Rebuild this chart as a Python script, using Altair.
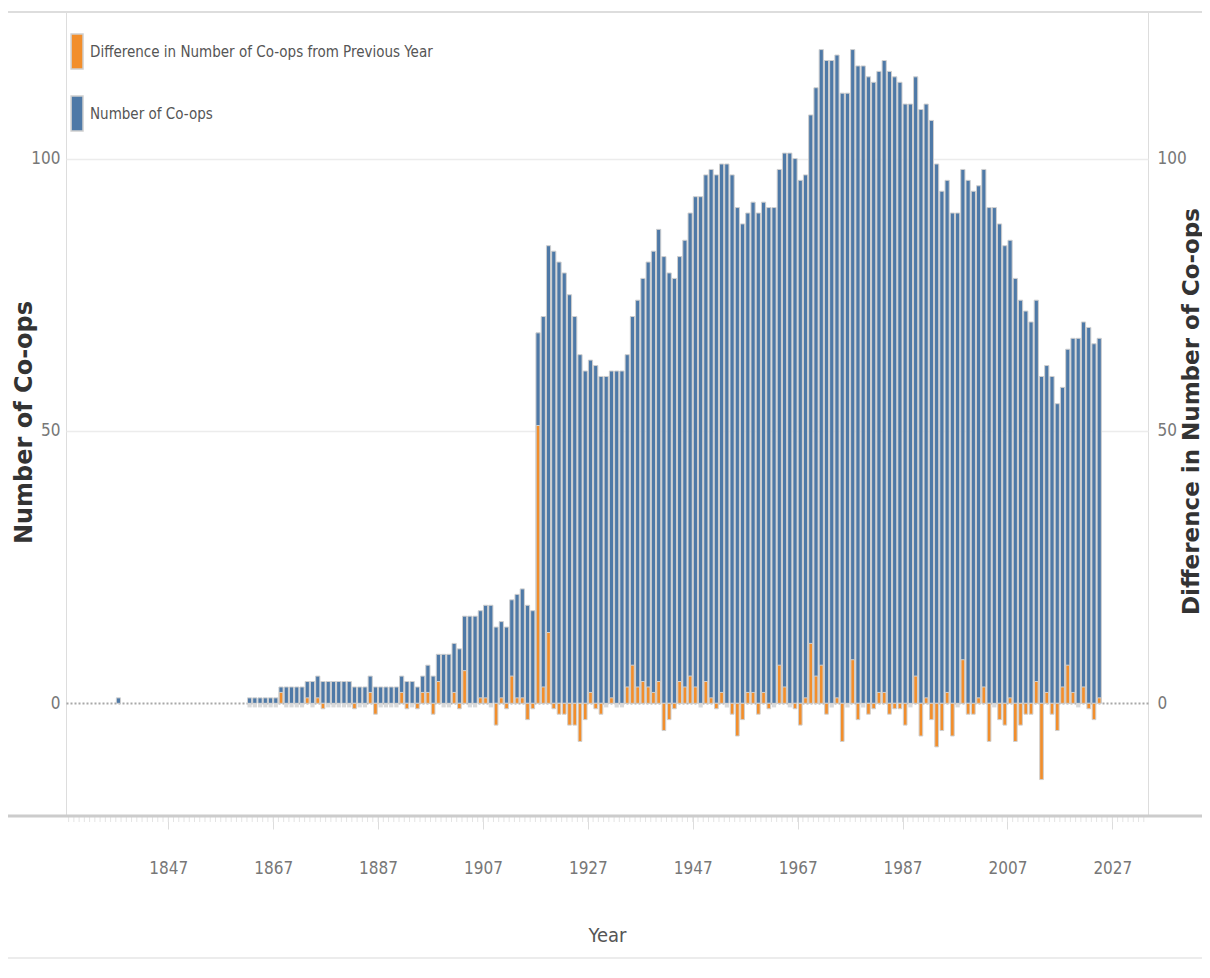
import altair as alt
import pandas as pd

# ---------------- data ----------------
first_year = [1837]
first_count = [1]

years = list(range(1862, 2025))

counts = [
    1, 1, 1, 1, 1, 1, 3, 3,                          # 1862-1869
    3, 3, 3, 4, 4, 5, 4, 4, 4, 4,                    # 1870s
    4, 4, 3, 3, 3, 5, 3, 3, 3, 3,                    # 1880s
    3, 5, 4, 4, 3, 5, 7, 5, 9, 9,                    # 1890s
    9, 11, 10, 16, 16, 16, 17, 18, 18, 14,           # 1900s
    15, 14, 19, 20, 21, 18, 17, 68, 71, 84,          # 1910s
    83, 81, 79, 75, 71, 64, 61, 63, 62, 60,          # 1920s
    60, 61, 61, 61, 64, 71, 74, 78, 81, 83,          # 1930s
    87, 82, 79, 78, 82, 85, 90, 93, 93, 97,          # 1940s
    98, 97, 99, 99, 97, 91, 88, 90, 92, 90,          # 1950s
    92, 91, 91, 98, 101, 101, 100, 96, 97, 108,      # 1960s
    113, 120, 118, 118, 119, 112, 112, 120, 117, 117,  # 1970s
    115, 114, 116, 118, 116, 115, 114, 110, 110, 115,  # 1980s
    109, 110, 107, 99, 94, 96, 90, 90, 98, 96,       # 1990s
    94, 95, 98, 91, 91, 88, 84, 85, 78, 74,          # 2000s
    72, 70, 74, 60, 62, 60, 55, 58, 65, 67,          # 2010s
    67, 70, 69, 66, 67,                              # 2020-2024
]

diffs = [
    0, 0, 0, 0, 0, 0, 2, 0,                          # 1862-1869
    0, 0, 0, 1, 0, 1, -1, 0, 0, 0,                   # 1870s
    0, 0, -1, 0, 0, 2, -2, 0, 0, 0,                  # 1880s
    0, 2, -1, 0, -1, 2, 2, -2, 4, 0,                 # 1890s
    0, 2, -1, 6, 0, 0, 1, 1, 0, -4,                  # 1900s
    1, -1, 5, 1, 1, -3, -1, 51, 3, 13,               # 1910s
    -1, -2, -2, -4, -4, -7, -3, 2, -1, -2,           # 1920s
    0, 1, 0, 0, 3, 7, 3, 4, 3, 2,                    # 1930s
    4, -5, -3, -1, 4, 3, 5, 3, 0, 4,                 # 1940s
    1, -1, 2, 0, -2, -6, -3, 2, 2, -2,               # 1950s
    2, -1, 0, 7, 3, 0, -1, -4, 1, 11,                # 1960s
    5, 7, -2, 0, 1, -7, 0, 8, -3, 0,                 # 1970s
    -2, -1, 2, 2, -2, -1, -1, -4, 0, 5,              # 1980s
    -6, 1, -3, -8, -5, 2, -6, 0, 8, -2,              # 1990s
    -2, 1, 3, -7, 0, -3, -4, 1, -7, -4,              # 2000s
    -2, -2, 4, -14, 2, -2, -5, 3, 7, 2,              # 2010s
    0, 3, -1, -3, 1,                                 # 2020-2024
]

x_ticks = [1847, 1867, 1887, 1907, 1927, 1947, 1967, 1987, 2007, 2027]
y_ticks = [0, 50, 100]
minor_ticks = list(range(1828, 2034))

S_DIFF = "Difference in Number of Co-ops from Previous Year"
S_COUNT = "Number of Co-ops"

count_df = pd.DataFrame({"year": first_year + years,
                         "value": first_count + counts,
                         "series": S_COUNT})
diff_df = pd.DataFrame({"year": years, "value": diffs, "series": S_DIFF})
minor_df = pd.DataFrame({"year": minor_ticks})
frame_df = pd.DataFrame({"k": [0]})

# ---------------- styling ----------------
W, H = 1082, 803
X_DOMAIN = [1827.5, 2033.8]
Y_DOMAIN = [-20.5, 126.9]
NARROW = "Liberation Sans Narrow, Arial Narrow, DejaVu Sans Condensed, sans-serif"
WIDE = "DejaVu Sans, Verdana, sans-serif"
BLUE = "#4e79a7"
ORANGE = "#f28e2b"
HALO = "#cfcfcf"

xscale = alt.Scale(domain=X_DOMAIN, nice=False, zero=False)
yscale = alt.Scale(domain=Y_DOMAIN, nice=False, zero=False)

color = alt.Color(
    "series:N",
    scale=alt.Scale(domain=[S_DIFF, S_COUNT], range=[ORANGE, BLUE]),
    legend=alt.Legend(
        title=None, orient="none", legendX=-19, legendY=21, padding=0,
        symbolType="M0.32,-1L1,-1L1,1L0.32,1Z", symbolSize=1225,
        symbolStrokeColor=HALO, symbolStrokeWidth=1.5, symbolOpacity=1,
        labelFont=NARROW, labelFontSize=15, labelColor="#555555",
        labelOffset=6, rowPadding=21, labelLimit=600,
    ),
)

x_axis = alt.Axis(
    values=x_ticks, format="d", title="Year",
    labelFont=NARROW, labelFontSize=17, labelColor="#777777",
    labelPadding=31, tickColor="#dddddd", tickSize=14, tickWidth=1,
    domain=False, grid=False,
    titleFont=NARROW, titleFontSize=20, titleColor="#555555",
    titleFontWeight="normal", titleX=W / 2, titleY=120,
    titleBaseline="middle", titleAlign="center",
)

left_axis = alt.Axis(
    orient="left", values=y_ticks, title="Number of Co-ops",
    labelFont=NARROW, labelFontSize=17, labelColor="#777777", labelPadding=6,
    ticks=False, domain=False, grid=True,
    gridColor={"condition": {"test": "datum.value === 0", "value": "#a8a8a8"},
               "value": "#ececec"},
    gridDash={"condition": {"test": "datum.value === 0", "value": [2, 2]},
              "value": []},
    gridWidth={"condition": {"test": "datum.value === 0", "value": 2},
               "value": 1.5},
    titleFont=WIDE, titleFontSize=24, titleFontWeight="bold",
    titleColor="#333333", titleAngle=270, titleX=-42, titleY=410,
    titleAlign="center", titleBaseline="middle",
)

right_axis = alt.Axis(
    orient="right", values=y_ticks, title="Difference in Number of Co-ops",
    labelFont=NARROW, labelFontSize=17, labelColor="#777777", labelPadding=9,
    ticks=False, domain=False, grid=False,
    titleFont=WIDE, titleFontSize=23, titleFontWeight="bold",
    titleColor="#333333", titleAngle=270, titleX=43, titleY=399,
    titleAlign="center", titleBaseline="middle",
)

X0 = alt.X("x0:Q", scale=xscale, axis=x_axis)

count_bars = alt.Chart(count_df).transform_calculate(
    x0="datum.year + 0.1", x1="datum.year + 0.9"
).mark_bar(stroke=HALO, strokeWidth=1, opacity=1).encode(
    x=X0,
    x2="x1:Q",
    y=alt.Y("value:Q", scale=yscale, axis=left_axis),
    y2=alt.Y2(datum=0),
    color=color,
)

zero_stubs = alt.Chart(diff_df).transform_filter(
    "datum.value == 0"
).transform_calculate(
    x0="datum.year + 0.1", x1="datum.year + 0.9", lo="-0.75"
).mark_bar(color="#d9d9d9", opacity=1).encode(
    x=X0,
    x2="x1:Q",
    y=alt.Y("lo:Q", scale=yscale, axis=None),
    y2=alt.Y2(datum=0),
)

diff_bars = alt.Chart(diff_df).transform_filter(
    "datum.value != 0"
).transform_calculate(
    x0="datum.year + 0.15", x1="datum.year + 0.85"
).mark_bar(stroke=HALO, strokeWidth=1, opacity=1).encode(
    x=X0,
    x2="x1:Q",
    y=alt.Y("value:Q", scale=yscale, axis=right_axis),
    y2=alt.Y2(datum=0),
    color=color,
)

minor = alt.Chart(minor_df).transform_calculate(
    x0="datum.year"
).mark_rule(color="#e4e4e4", strokeWidth=1).encode(
    x=X0,
    y=alt.value(H + 1), y2=alt.value(H + 7),
)

top_line = alt.Chart(frame_df).mark_rule(color="#dddddd", strokeWidth=2).encode(
    x=alt.value(-58), x2=alt.value(W + 54), y=alt.value(0))
bottom_line = alt.Chart(frame_df).mark_rule(color="#cccccc", strokeWidth=3).encode(
    x=alt.value(-58), x2=alt.value(W + 54), y=alt.value(H + 1))
foot_line = alt.Chart(frame_df).mark_rule(color="#e6e6e6", strokeWidth=1.5).encode(
    x=alt.value(-58), x2=alt.value(W + 54), y=alt.value(H + 143))

chart = alt.layer(
    count_bars, zero_stubs, diff_bars, minor, top_line, bottom_line, foot_line
).resolve_scale(
    y="independent"
).properties(
    width=W, height=H,
    autosize=alt.AutoSizeParams(type="none"),
    padding={"left": 58, "top": 4, "right": 54, "bottom": 145},
).configure_view(
    stroke="#e2e2e2", strokeWidth=1
).configure(background="white")

chart.save("out.html", embed_options={"renderer": "svg", "actions": False})
